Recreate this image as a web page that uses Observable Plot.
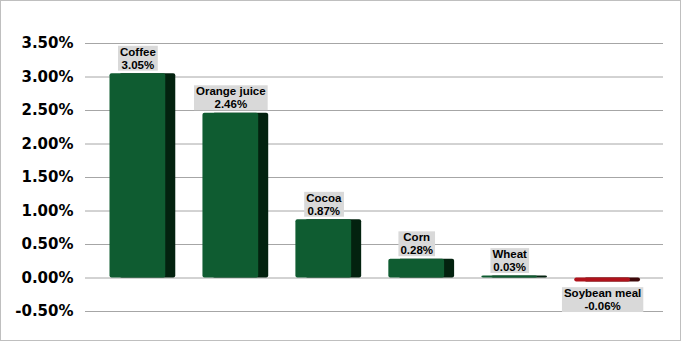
<!DOCTYPE html>
<html>
<head>
<meta charset="utf-8">
<script src="https://cdn.jsdelivr.net/npm/d3@7"></script>
<script src="https://cdn.jsdelivr.net/npm/@observablehq/plot@0.6"></script>
<style>
  html, body { margin: 0; padding: 0; background: #fff; }
  svg { display: block; outline: 1px solid #bfbfbf; outline-offset: -1px; }
</style>
</head>
<body>
<script>
const categories = ["Coffee", "Orange juice", "Cocoa", "Corn", "Wheat", "Soybean meal"];
const values = [3.05, 2.46, 0.87, 0.28, 0.03, -0.06];
const yTicks = [-0.5, 0, 0.5, 1, 1.5, 2, 2.5, 3, 3.5];

const data = categories.map((name, i) => ({name, value: values[i]}));
const label = d => `${d.name}\n${d.value.toFixed(2)}%`;
const frontFill = d => d.value >= 0 ? "#0f5c31" : "#b0121b";
const sideFill = d => d.value >= 0 ? "#03220f" : "#3e0809";

const chart = Plot.plot({
  width: 681,
  height: 341,
  marginLeft: 85,
  marginRight: 18,
  marginTop: 43,
  marginBottom: 30,
  style: {background: "#fff"},
  x: {domain: categories, range: [109.5, 630], paddingInner: 0.4, paddingOuter: 0, round: false, axis: null},
  y: {
    domain: [-0.5, 3.5],
    ticks: yTicks,
    tickSize: 0,
    tickPadding: 12,
    tickFormat: d => d.toFixed(2) + "%",
    label: null
  },
  color: {type: "identity"},
  marks: [
    Plot.ruleY(yTicks, {stroke: "#a6a6a6", strokeWidth: 1}),
    Plot.axisY({
      ticks: yTicks,
      tickSize: 0,
      tickPadding: 12,
      tickFormat: d => d.toFixed(2) + "%",
      label: null,
      fontSize: 15,
      fontWeight: "bold",
      fontFamily: "DejaVu Sans",
      fill: "#000"
    }),
    Plot.barY(data, {x: "name", y: "value", fill: sideFill, dx: 10, rx: 2}),
    Plot.barY(data, {x: "name", y: "value", fill: frontFill, rx: 2}),
    Plot.text(data.filter(d => d.value >= 0), {
      x: "name", y: "value", text: label,
      lineAnchor: "bottom", dy: -5, lineHeight: 1.12,
      fontSize: 11.5, fontWeight: "bold", fontFamily: "Liberation Sans", fill: "#000"
    }),
    Plot.text(data.filter(d => d.value < 0), {
      x: "name", y: "value", text: label,
      lineAnchor: "top", dy: 6, lineHeight: 1.12,
      fontSize: 11.5, fontWeight: "bold", fontFamily: "Liberation Sans", fill: "#000"
    })
  ]
});
document.body.append(chart);

// gray label boxes behind bar labels
chart.querySelectorAll('g[aria-label="text"] > text').forEach(t => {
  const b = t.getBBox();
  const r = document.createElementNS("http://www.w3.org/2000/svg", "rect");
  r.setAttribute("x", b.x - 2);
  r.setAttribute("y", b.y);
  r.setAttribute("width", b.width + 4);
  r.setAttribute("height", b.height);
  r.setAttribute("fill", "#d9d9d9");
  if (t.getAttribute("transform")) r.setAttribute("transform", t.getAttribute("transform"));
  t.parentNode.insertBefore(r, t);
});
</script>
</body>
</html>
